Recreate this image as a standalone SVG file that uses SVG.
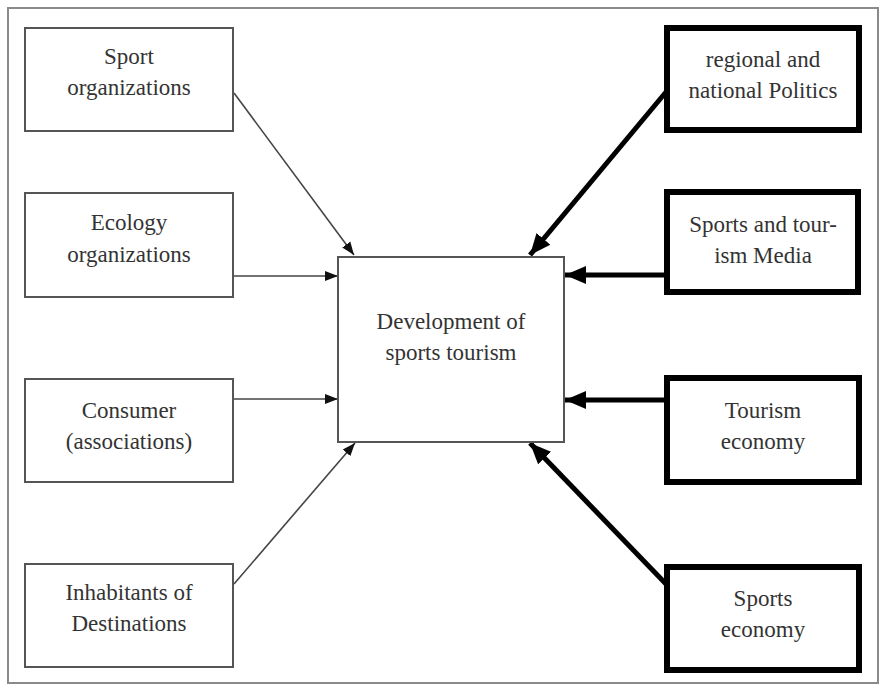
<svg xmlns="http://www.w3.org/2000/svg" width="881" height="686" viewBox="0 0 881 686">
<style>
.frame{fill:#fff;stroke:#8a8a8a;stroke-width:2}
.thin{fill:#fff;stroke:#555;stroke-width:2}
.thick{fill:#fff;stroke:#000;stroke-width:6}
text{font-family:"Liberation Serif","Times New Roman",serif;font-size:23px;fill:#333;text-anchor:middle}
.ct{fill:none;stroke:#444;stroke-width:1.6}
.ck{fill:none;stroke:#000;stroke-width:5}
</style>
<defs>
<marker id="ah" markerUnits="userSpaceOnUse" markerWidth="14" markerHeight="12" refX="13" refY="6" orient="auto">
<path d="M0,1 L13,6 L0,11 z" fill="#111"/>
</marker>
<marker id="ahk" markerUnits="userSpaceOnUse" markerWidth="22" markerHeight="20" refX="21" refY="10" orient="auto">
<path d="M0,1 L21,10 L0,19 z" fill="#000"/>
</marker>
</defs>
<rect class="frame" x="8" y="8" width="870" height="675"/>
<g id="connectors">
<line class="ct" x1="234" y1="93" x2="354" y2="255" marker-end="url(#ah)"/>
<line class="ct" x1="234" y1="276" x2="338" y2="276" marker-end="url(#ah)"/>
<line class="ct" x1="234" y1="399" x2="338" y2="399" marker-end="url(#ah)"/>
<line class="ct" x1="234" y1="584" x2="355" y2="443" marker-end="url(#ah)"/>
<line class="ck" x1="666" y1="92" x2="530" y2="255" marker-end="url(#ahk)"/>
<line class="ck" x1="666" y1="275" x2="565" y2="275" marker-end="url(#ahk)"/>
<line class="ck" x1="666" y1="400" x2="565" y2="400" marker-end="url(#ahk)"/>
<line class="ck" x1="666" y1="584" x2="530" y2="443" marker-end="url(#ahk)"/>
</g>
<g id="center">
<rect class="thin" x="338" y="257" width="226" height="185"/>
<text x="451" y="329">Development of</text>
<text x="451" y="360">sports tourism</text>
</g>
<g id="sport-org">
<rect class="thin" x="25" y="28" width="208" height="103"/>
<text x="129" y="64">Sport</text>
<text x="129" y="95">organizations</text>
</g>
<g id="ecology-org">
<rect class="thin" x="25" y="193" width="208" height="104"/>
<text x="129" y="230">Ecology</text>
<text x="129" y="262">organizations</text>
</g>
<g id="consumer">
<rect class="thin" x="25" y="379" width="208" height="103"/>
<text x="129" y="418">Consumer</text>
<text x="129" y="449">(associations)</text>
</g>
<g id="inhabitants">
<rect class="thin" x="25" y="564" width="208" height="103"/>
<text x="129" y="600">Inhabitants of</text>
<text x="129" y="631">Destinations</text>
</g>
<g id="politics">
<rect class="thick" x="667" y="28" width="192" height="102"/>
<text x="763" y="67">regional and</text>
<text x="763" y="98">national Politics</text>
</g>
<g id="media">
<rect class="thick" x="667" y="192" width="191" height="100"/>
<text x="763" y="232">Sports and tour-</text>
<text x="763" y="263">ism Media</text>
</g>
<g id="tourism-economy">
<rect class="thick" x="667" y="378" width="192" height="104"/>
<text x="763" y="418">Tourism</text>
<text x="763" y="449">economy</text>
</g>
<g id="sports-economy">
<rect class="thick" x="667" y="567" width="192" height="103"/>
<text x="763" y="606">Sports</text>
<text x="763" y="637">economy</text>
</g>
</svg>
